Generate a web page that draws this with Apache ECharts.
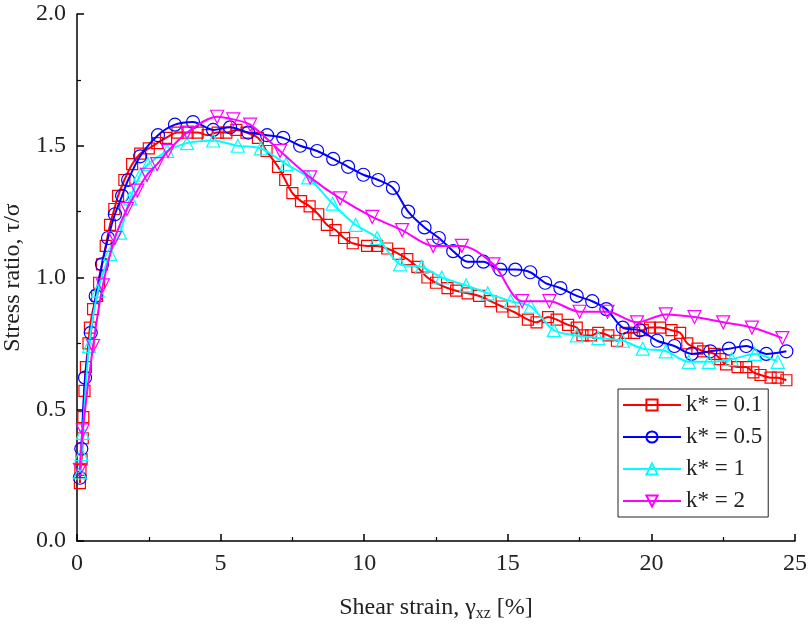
<!DOCTYPE html>
<html><head><meta charset="utf-8">
<script src="https://cdn.jsdelivr.net/npm/echarts@6/dist/echarts.min.js"></script>
<style>html,body{margin:0;padding:0;background:#fff}#c{width:808px;height:625px}</style>
</head><body><div id="c"></div>
<script>
const seriesNames = ['k* = 0.1', 'k* = 0.5', 'k* = 1', 'k* = 2'];
const xTicks = [0, 5, 10, 15, 20, 25];
const yTicks = [0.0, 0.5, 1.0, 1.5, 2.0];
const k01 = [[0.1,0.22],[0.12,0.27],[0.16,0.31],[0.2,0.39],[0.22,0.47],[0.26,0.57],[0.31,0.66],[0.4,0.75],[0.45,0.81],[0.56,0.88],[0.7,0.93],[0.77,0.98],[0.87,1.05],[1.0,1.12],[1.15,1.2],[1.3,1.26],[1.43,1.31],[1.65,1.37],[1.92,1.43],[2.2,1.47],[2.5,1.49],[2.79,1.51],[3.1,1.53],[3.5,1.55],[3.85,1.55],[4.2,1.55],[4.55,1.54],[4.9,1.55],[5.2,1.55],[5.55,1.56],[5.9,1.55],[6.3,1.53],[6.6,1.48],[7.0,1.42],[7.25,1.37],[7.5,1.32],[7.8,1.29],[8.1,1.27],[8.4,1.24],[8.7,1.2],[9.0,1.18],[9.3,1.15],[9.6,1.13],[10.1,1.12],[10.45,1.12],[10.8,1.11],[11.2,1.09],[11.5,1.07],[11.85,1.04],[12.2,1.0],[12.5,0.98],[12.9,0.96],[13.2,0.95],[13.6,0.94],[14.0,0.93],[14.4,0.91],[14.8,0.89],[15.2,0.87],[15.7,0.84],[16.0,0.83],[16.4,0.85],[16.7,0.84],[17.1,0.82],[17.4,0.81],[17.6,0.78],[17.9,0.78],[18.15,0.79],[18.5,0.78],[18.8,0.76],[19.1,0.79],[19.4,0.79],[19.7,0.80],[19.95,0.81],[20.3,0.81],[20.7,0.80],[21.0,0.79],[21.25,0.75],[21.6,0.73],[21.8,0.72],[22.2,0.71],[22.4,0.69],[22.6,0.67],[23.0,0.66],[23.3,0.66],[23.55,0.64],[23.8,0.63],[24.15,0.62],[24.4,0.62],[24.7,0.61]];
const k05 = [[0.1,0.24],[0.15,0.35],[0.28,0.62],[0.48,0.79],[0.65,0.93],[0.87,1.05],[1.08,1.15],[1.32,1.24],[1.57,1.31],[1.78,1.37],[2.2,1.46],[2.82,1.54],[3.41,1.58],[4.04,1.59],[4.74,1.56],[5.33,1.57],[5.96,1.55],[6.62,1.54],[7.18,1.53],[7.77,1.50],[8.36,1.48],[8.92,1.45],[9.44,1.42],[9.97,1.39],[10.49,1.37],[11.0,1.34],[11.53,1.25],[12.1,1.19],[12.6,1.15],[13.1,1.10],[13.6,1.06],[14.15,1.06],[14.74,1.03],[15.26,1.03],[15.78,1.02],[16.3,0.98],[16.83,0.96],[17.4,0.93],[17.94,0.91],[18.43,0.88],[19.0,0.81],[19.6,0.80],[20.2,0.76],[20.8,0.74],[21.4,0.71],[22.05,0.72],[22.7,0.73],[23.3,0.74],[24.0,0.71],[24.7,0.72]];
const k1 = [[0.1,0.26],[0.15,0.33],[0.2,0.41],[0.42,0.74],[0.73,0.95],[1.15,1.09],[1.5,1.17],[1.85,1.3],[2.2,1.39],[2.47,1.43],[3.14,1.48],[3.83,1.51],[4.74,1.52],[5.6,1.50],[6.4,1.49],[7.28,1.43],[8.05,1.38],[8.9,1.28],[9.7,1.20],[10.45,1.15],[11.25,1.05],[12.0,1.04],[12.7,1.0],[13.55,0.97],[14.3,0.94],[15.1,0.91],[15.8,0.89],[16.6,0.80],[17.4,0.78],[18.15,0.77],[19.0,0.76],[19.7,0.73],[20.5,0.72],[21.3,0.68],[22.0,0.68],[22.8,0.69],[23.6,0.71],[24.4,0.68]];
const k2 = [[0.1,0.27],[0.2,0.42],[0.56,0.74],[0.9,0.97],[1.32,1.15],[1.74,1.26],[2.1,1.33],[2.44,1.39],[2.79,1.43],[3.17,1.48],[3.83,1.55],[4.88,1.61],[5.44,1.60],[6.03,1.58],[7.07,1.48],[8.12,1.38],[9.16,1.30],[10.28,1.23],[11.32,1.18],[12.4,1.12],[13.4,1.12],[14.5,1.05],[15.5,0.91],[16.45,0.91],[17.5,0.87],[18.47,0.87],[19.5,0.83],[20.5,0.86],[21.5,0.85],[22.5,0.83],[23.5,0.81],[24.56,0.77]];

const FONT = '"Liberation Serif", "DejaVu Serif", serif';
const colors = ['#ff0000', '#0000ff', '#00ffff', '#ff00ff'];
const symbols = ['rect', 'circle', 'triangle', 'triangle'];
const rotates = [0, 0, 0, 180];
const sizes = [11, 13, 13, 13];
const datas = [k01, k05, k1, k2];

const chart = echarts.init(document.getElementById('c'), null, {renderer: 'canvas'});
const axisCommon = {
  axisLine: {show: true, onZero: false, lineStyle: {color: '#000', width: 1.5}},
  axisTick: {show: true, inside: true, length: 7, lineStyle: {color: '#000', width: 1.5}},
  minorTick: {show: true, splitNumber: 2, length: 4, lineStyle: {color: '#000', width: 1.2}},
  splitLine: {show: false},
  axisLabel: {color: '#222', fontFamily: FONT, fontSize: 24},
  nameTextStyle: {color: '#222', fontFamily: FONT, fontSize: 24}
};
chart.setOption({
  animation: false,
  backgroundColor: '#fff',
  grid: {left: 77, right: 13, top: 14, bottom: 84, containLabel: false, outerBoundsMode: 'none'},
  xAxis: Object.assign({}, axisCommon, {
    type: 'value', min: xTicks[0], max: xTicks[xTicks.length - 1], interval: 5,
    axisLabel: Object.assign({}, axisCommon.axisLabel, {margin: 11}),
    name: '{a|Shear strain, γ}{s|xz}{a| [%]}',
    nameLocation: 'middle', nameGap: 52,
    nameTextStyle: {rich: {
      a: {fontFamily: FONT, fontSize: 24, color: '#222'},
      s: {fontFamily: FONT, fontSize: 16, color: '#222', padding: [13, 0, 0, 0]}
    }}
  }),
  yAxis: Object.assign({}, axisCommon, {
    type: 'value', min: yTicks[0], max: yTicks[yTicks.length - 1], interval: 0.5,
    axisLabel: Object.assign({}, axisCommon.axisLabel, {margin: 11, formatter: v => v.toFixed(1)}),
    name: 'Stress ratio, τ/σ', nameLocation: 'middle', nameGap: 45, nameRotate: 90
  }),
  legend: {
    orient: 'vertical', left: 618, top: 389,
    padding: [4, 6, 4, 4], itemGap: 8, itemWidth: 58, itemHeight: 14,
    borderColor: '#222', borderWidth: 1, backgroundColor: '#fff',
    textStyle: {fontFamily: FONT, fontSize: 23, color: '#222', lineHeight: 24},
    data: seriesNames
  },
  series: datas.map((d, i) => ({
    name: seriesNames[i], type: 'line', data: d, smooth: 0.3,
    symbol: symbols[i], symbolSize: sizes[i], symbolRotate: rotates[i],
    showAllSymbol: true, z: 2 + i,
    lineStyle: {color: colors[i], width: 2},
    itemStyle: {color: 'rgba(255,255,255,0)', borderColor: colors[i], borderWidth: 1.2}
  }))
});
</script></body></html>
